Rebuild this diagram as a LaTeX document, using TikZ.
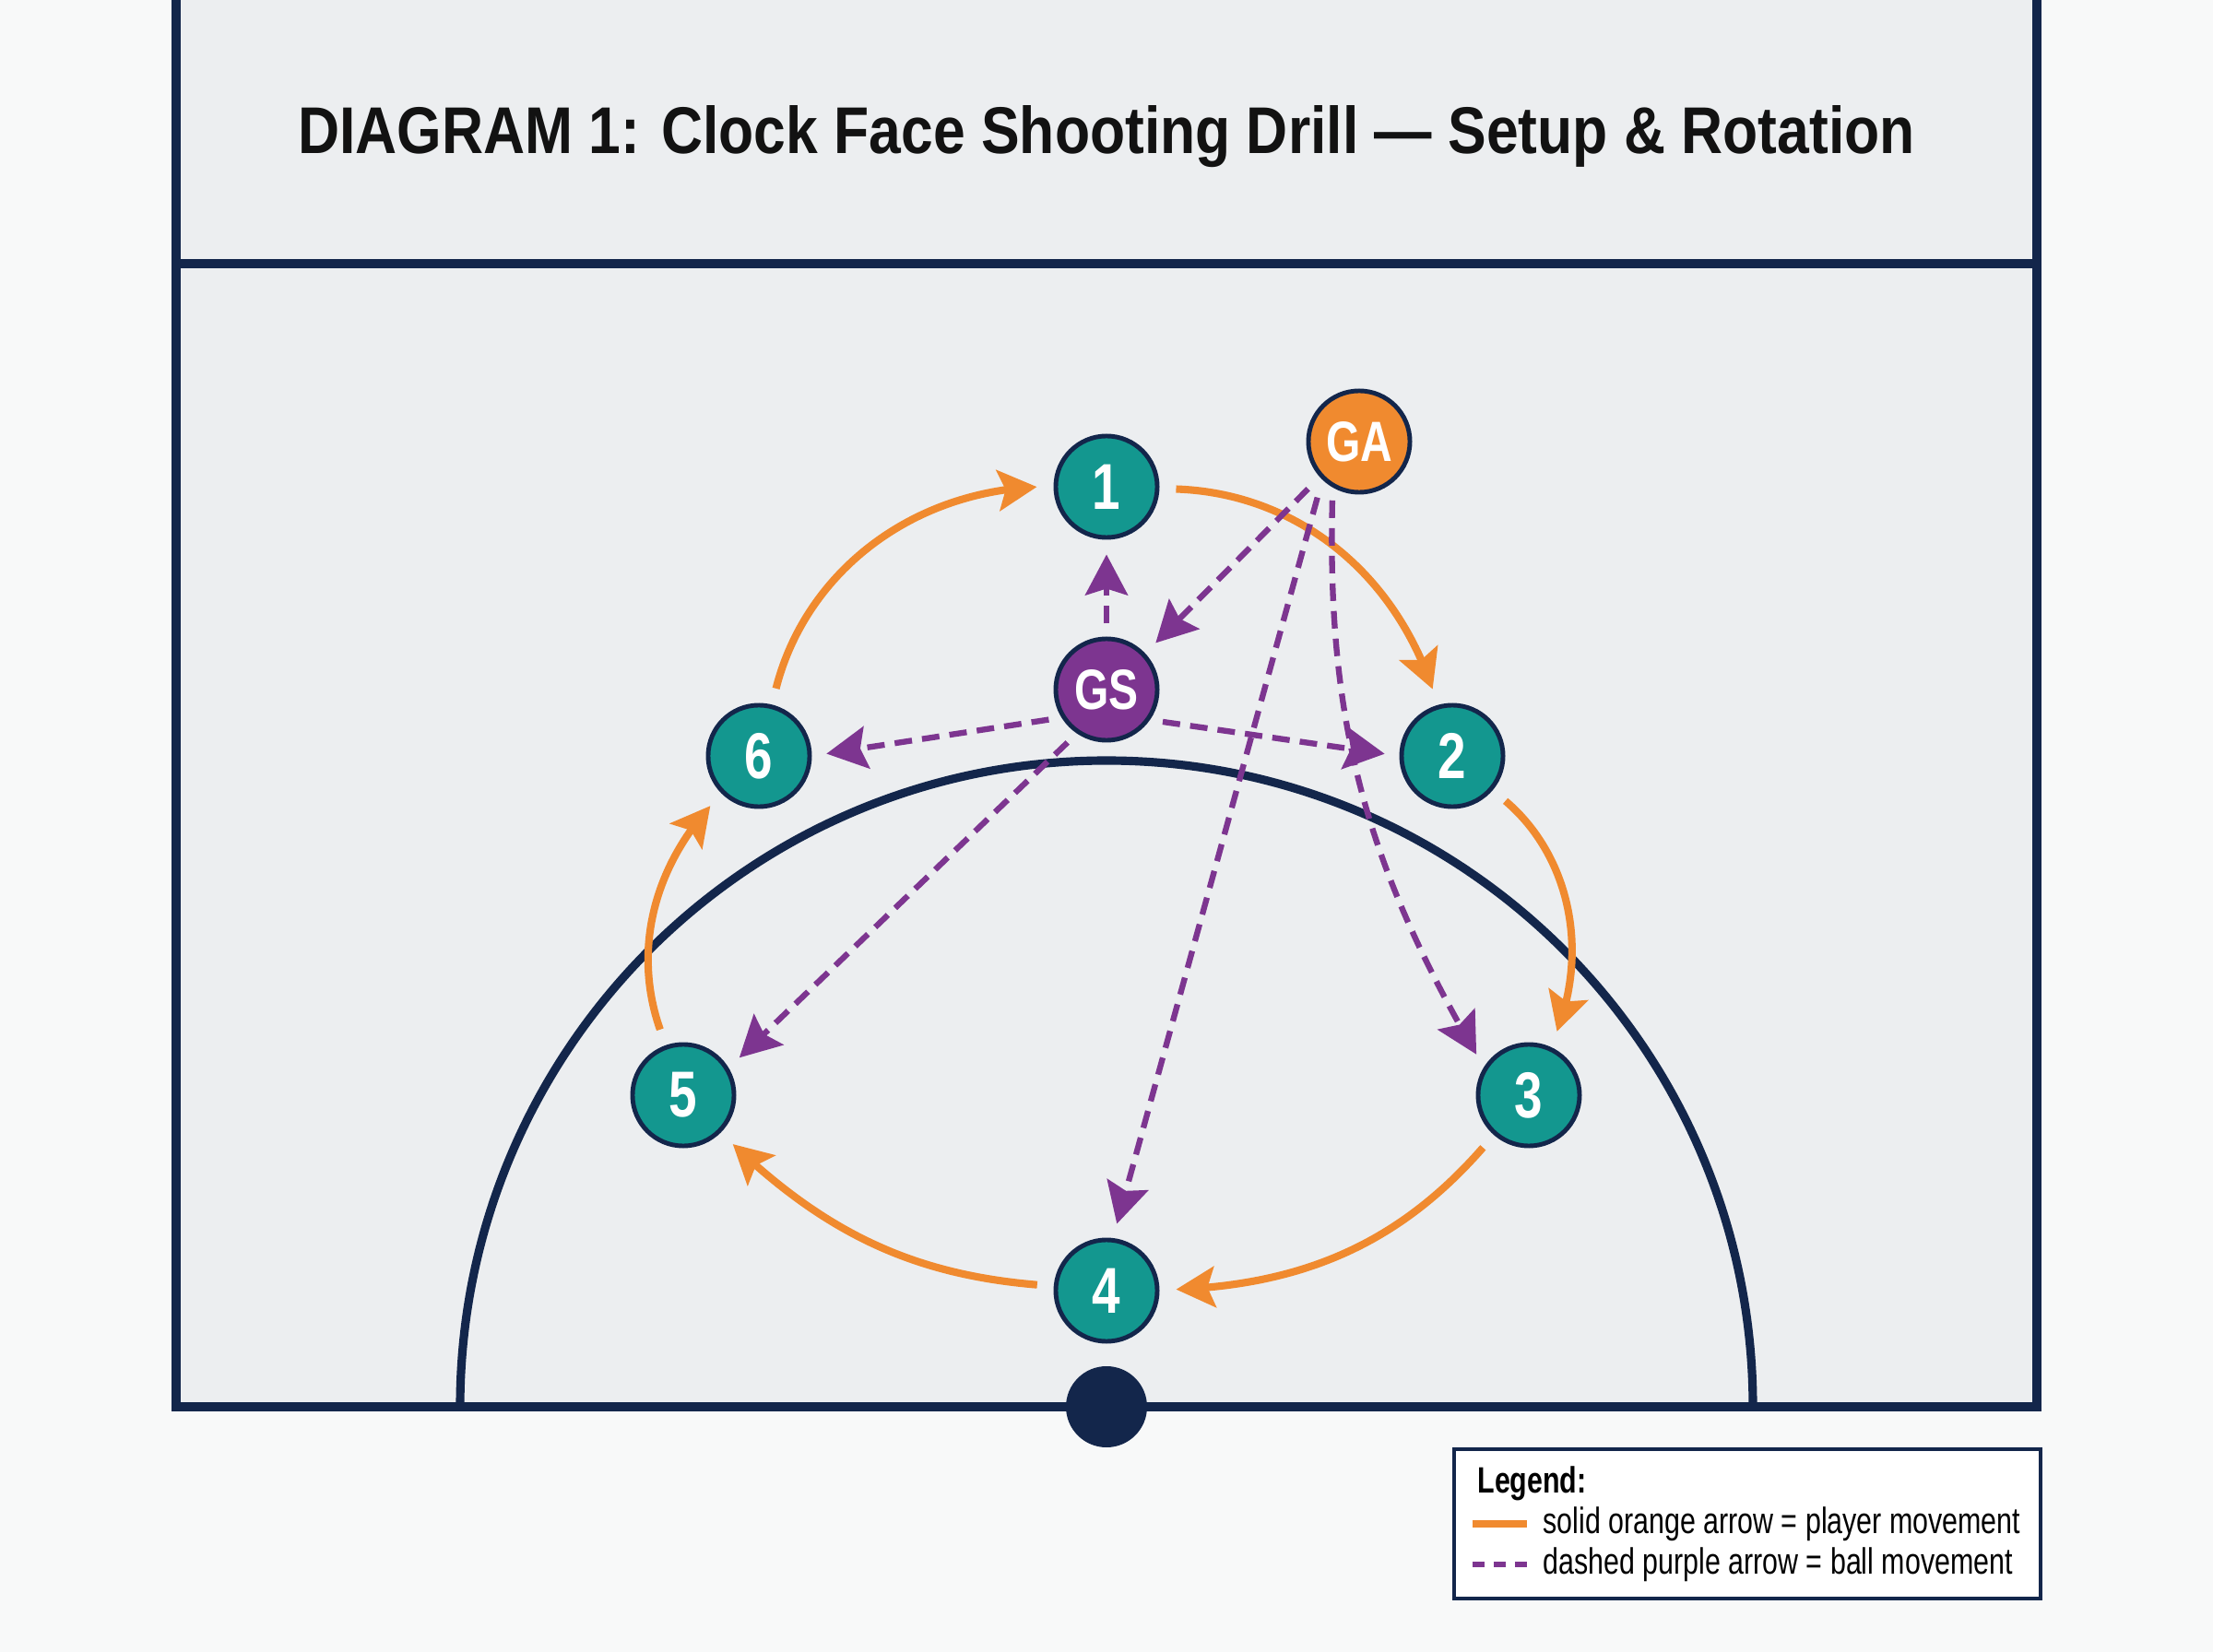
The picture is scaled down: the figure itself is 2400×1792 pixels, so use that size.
\documentclass[tikz,border=0pt]{standalone}
\usepackage{fontspec}
\setmainfont{Liberation Sans}
\newfontfamily\titlefont[FakeStretch=0.87]{Liberation Sans}
\newfontfamily\condfont[FakeStretch=0.78]{Liberation Sans}
\newfontfamily\legendfont[FakeStretch=0.765]{Liberation Sans}
\usetikzlibrary{arrows.meta,bending}
\definecolor{pagebg}{HTML}{F8F9F9}
\definecolor{courtbg}{HTML}{ECEEF0}
\definecolor{courtline}{HTML}{13264B}
\definecolor{clockteal}{HTML}{13978F}
\definecolor{runorange}{HTML}{F08A2F}
\definecolor{ballpurple}{HTML}{7D3590}

\begin{document}
\begin{tikzpicture}[x=0.01cm,y=-0.01cm,
	player/.style={circle,draw=courtline,line width=1.4pt,fill=clockteal,minimum size=1.1cm,inner sep=0pt,text=white,font=\condfont\bfseries\fontsize{20}{20}\selectfont},
	run/.style={draw=runorange,line width=2.3pt,-{Stealth[length=0.42cm,width=0.44cm,inset=0.08cm]},shorten <=0.18cm,shorten >=0.18cm},
	pass/.style={draw=ballpurple,line width=1.8pt,dash pattern=on 0.19cm off 0.11cm,-{Stealth[length=0.44cm,width=0.46cm,inset=0.07cm]},shorten <=0.14cm,shorten >=0.16cm}]
	% Page and court
	\useasboundingbox (0,0) rectangle (2400,1792);
	\fill[pagebg] (0,0) rectangle (2400,1792);
	\fill[courtbg] (191,-20) rectangle (2209,1526);
	\draw[courtline,line width=2.6pt] (191,-20) rectangle (2209,1526);
	\draw[courtline,line width=2.6pt] (191,286) -- (2209,286);
	
	% Title
	\node[font=\titlefont\bfseries\fontsize{20.4}{24}\selectfont,text=black!93] (title) at (1200,148) {DIAGRAM 1: Clock Face Shooting Drill — Setup \& Rotation};
	
	% Shooting circle and post
	\draw[courtline,line width=2.6pt] (499,1526) arc[start angle=180,end angle=360,radius=701];
	\fill[courtline] (1200,1526) circle[radius=44];
	
	% Clock positions
	\node[player] (p1) at (1200,528) {1};
	\node[player] (p2) at (1575,820) {2};
	\node[player] (p3) at (1658,1188) {3};
	\node[player] (p4) at (1200,1400) {4};
	\node[player] (p5) at (741,1188) {5};
	\node[player] (p6) at (823,820) {6};
	
	% Feeders
	\node[player,fill=ballpurple,font=\condfont\bfseries\fontsize{17.5}{18}\selectfont] (GS) at (1200,748) {GS};
	\node[player,fill=runorange,font=\condfont\bfseries\fontsize{17.5}{18}\selectfont] (GA) at (1474,479) {GA};
	
	% Player rotation
	\draw[run] (p1) to[bend left=36] (p2);
	\draw[run] (p2) to[bend left=37] (p3);
	\draw[run] (p3) to[bend left=24] (p4);
	\draw[run] (p4) to[bend left=20] (p5);
	\draw[run] (p5) to[bend left=32] (p6);
	\draw[run] (p6) to[bend left=38] (p1);
	
	% Ball movement
	\draw[pass] (GS) -- (p1);
	\draw[pass,shorten <=0.18cm] (GA.222) -- (GS.43);
	\draw[pass,shorten <=0.2cm] (GA.226) -- (p4.83);
	\draw[pass] (GA.240) to[bend right=16] (p3.148);
	\draw[pass] (GS.212) -- (p6.east);
	\draw[pass] (GS.325) -- (p2.west);
	\draw[pass] (GS.236) -- (p5.31);
	
	% Legend
	\node[draw=courtline,line width=1pt,fill=white,minimum width=6.36cm,minimum height=1.62cm] (legend) at (1895,1653) {};
	\node[anchor=west,font=\legendfont\bfseries\fontsize{11.3}{12}\selectfont] (legtitle) at (1590,1609) {Legend:};
	\draw[runorange,line width=2pt] (1597,1653) -- (1656,1653);
	\node[anchor=west,font=\legendfont\fontsize{11.3}{12}\selectfont] (legrun) at (1661,1653) {solid orange arrow = player movement};
	\draw[ballpurple,line width=1.6pt,dash pattern=on 0.13cm off 0.1cm] (1597,1697) -- (1656,1697);
	\node[anchor=west,font=\legendfont\fontsize{11.3}{12}\selectfont] (legpass) at (1661,1697) {dashed purple arrow = ball movement};
\end{tikzpicture}
\end{document}
